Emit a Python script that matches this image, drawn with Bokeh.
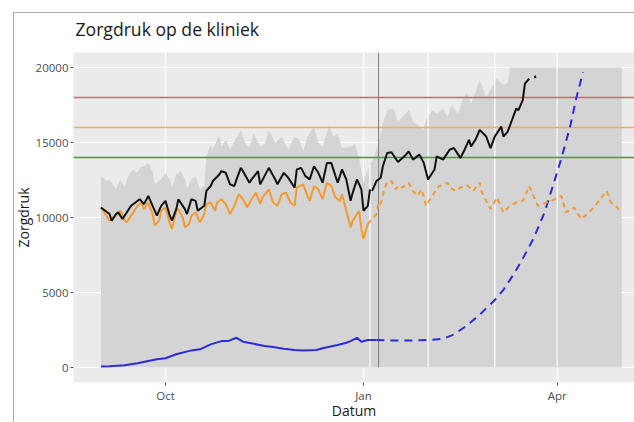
import numpy as np
import pandas as pd
from bokeh.plotting import figure
from bokeh.models import Range1d, FixedTicker, DatetimeTickFormatter, ColumnDataSource
from bokeh.embed import file_html
from bokeh.resources import INLINE

FONT = "Open Sans"
NAN = float("nan")

# ---------------- data ----------------
x_ticks = ["2021-10-01", "2022-01-01", "2022-04-01"]
y_ticks = [0, 5000, 10000, 15000, 20000]

thresholds = [18000, 16000, 14000]
threshold_colors = ["#E5596A", "#F4A863", "#489548"]

today = "2022-01-08"
ribbon_break_full = ["2022-01-31", "2022-03-03", "2022-04-01"]
ribbon_break_low = ["2022-01-04"]

ribbon_dates = [
    "2021-09-01", "2021-09-02", "2021-09-04", "2021-09-05", "2021-09-08", "2021-09-10",
    "2021-09-12", "2021-09-14", "2021-09-16", "2021-09-18", "2021-09-19", "2021-09-21",
    "2021-09-23", "2021-09-25", "2021-09-26", "2021-09-29", "2021-10-01", "2021-10-03",
    "2021-10-04", "2021-10-06", "2021-10-08", "2021-10-10", "2021-10-11", "2021-10-13",
    "2021-10-15", "2021-10-17", "2021-10-19", "2021-10-20", "2021-10-22", "2021-10-23",
    "2021-10-26", "2021-10-27", "2021-10-29", "2021-10-31", "2021-11-02", "2021-11-05",
    "2021-11-07", "2021-11-09", "2021-11-11", "2021-11-14", "2021-11-16", "2021-11-18",
    "2021-11-21", "2021-11-24", "2021-11-27", "2021-11-30", "2021-12-02", "2021-12-04",
    "2021-12-06", "2021-12-09", "2021-12-11", "2021-12-13", "2021-12-16", "2021-12-18",
    "2021-12-20", "2021-12-22", "2021-12-26", "2021-12-28", "2021-12-30", "2022-01-01",
    "2022-01-03", "2022-01-06", "2022-01-08", "2022-01-10", "2022-01-12", "2022-01-15",
    "2022-01-17", "2022-01-20", "2022-01-22", "2022-01-24", "2022-01-27", "2022-01-29",
    "2022-01-30", "2022-02-02", "2022-02-04", "2022-02-07", "2022-02-09", "2022-02-11",
    "2022-02-14", "2022-02-16", "2022-02-18", "2022-02-20", "2022-02-24", "2022-02-27",
    "2022-03-04", "2022-03-07", "2022-03-09", "2022-03-10", "2022-05-01",
]
ribbon_top = [
    12760, 12650, 12430, 12540, 11880, 12540,
    12060, 12870, 13200, 12980, 13310, 13420,
    13640, 13090, 12210, 12540, 12980, 12540,
    11990, 12870, 13090, 12540, 11880, 12540,
    12760, 11880, 12100, 14080, 14850, 14520,
    15510, 14740, 15180, 14520, 15070, 15840,
    14960, 14630, 15620, 14740, 14850, 15840,
    14960, 15400, 14520, 15400, 15180, 14410,
    15400, 16060, 14960, 14740, 16170, 15400,
    15620, 14630, 14740, 14960, 13860, 12320,
    13200, 14080, 14960, 16280, 17160, 17270,
    16390, 16830, 17160, 16390, 16060, 15840,
    16500, 17160, 16940, 17270, 16720, 17490,
    16940, 17820, 18300, 17600, 19140, 18020,
    19270, 18800, 19000, 20000, 20000,
]

black_dates = [
    "2021-09-01", "2021-09-03", "2021-09-05", "2021-09-06", "2021-09-08", "2021-09-09",
    "2021-09-11", "2021-09-12", "2021-09-15", "2021-09-17", "2021-09-19", "2021-09-21",
    "2021-09-23", "2021-09-25", "2021-09-27", "2021-09-29", "2021-10-01", "2021-10-03",
    "2021-10-04", "2021-10-06", "2021-10-07", "2021-10-10", "2021-10-11", "2021-10-13",
    "2021-10-15", "2021-10-16", "2021-10-19", "2021-10-20", "2021-10-22", "2021-10-23",
    "2021-10-26", "2021-10-27", "2021-10-29", "2021-10-31", "2021-11-02", "2021-11-03",
    "2021-11-05", "2021-11-06", "2021-11-09", "2021-11-10", "2021-11-13", "2021-11-14",
    "2021-11-16", "2021-11-18", "2021-11-21", "2021-11-22", "2021-11-25", "2021-11-27",
    "2021-11-30", "2021-12-01", "2021-12-03", "2021-12-05", "2021-12-07", "2021-12-09",
    "2021-12-11", "2021-12-13", "2021-12-15", "2021-12-17", "2021-12-19", "2021-12-20",
    "2021-12-22", "2021-12-24", "2021-12-26", "2021-12-27", "2021-12-29", "2021-12-31",
    "2022-01-01", "2022-01-03", "2022-01-04", "2022-01-04 14:00", "2022-01-05", "2022-01-07",
    "2022-01-09", "2022-01-10", "2022-01-12", "2022-01-14", "2022-01-17", "2022-01-20",
    "2022-01-22", "2022-01-24", "2022-01-27", "2022-01-29", "2022-01-31", "2022-02-03",
    "2022-02-04", "2022-02-07", "2022-02-10", "2022-02-12", "2022-02-14", "2022-02-15",
    "2022-02-17", "2022-02-19", "2022-02-20", "2022-02-22", "2022-02-24", "2022-02-27",
    "2022-03-01", "2022-03-03", "2022-03-06", "2022-03-07", "2022-03-09", "2022-03-11",
    "2022-03-13", "2022-03-14", "2022-03-16", "2022-03-17", "2022-03-19", "2022-03-20",
    "2022-03-21 12:00", "2022-03-22",
]
black_vals = [
    10670, 10450, 10230, 9790, 10230, 10340,
    9900, 10120, 10780, 11000, 11220, 10890,
    11440, 10780, 10120, 10780, 11110, 10120,
    9790, 10560, 11220, 10560, 10230, 11220,
    11110, 10450, 10780, 11770, 12100, 12430,
    12870, 13090, 12980, 12210, 12100, 12540,
    13310, 13090, 12320, 12540, 13090, 12210,
    12760, 13310, 12540, 12210, 12980, 12650,
    11990, 13200, 13310, 12760, 12540, 13420,
    12980, 12320, 13640, 13640, 12760, 12320,
    13200, 12540, 11110, 11660, 12540, 11880,
    10450, 10780, 11880, NAN, 11770, 12430,
    12650, 13420, 14300, 14350, 13700, 14080,
    14410, 13860, 14190, 13640, 12540, 13200,
    14080, 13860, 14520, 14630, 14190, 13970,
    14520, 15180, 14740, 15180, 15840, 15400,
    14630, 15400, 16060, 15400, 15730, 16500,
    17270, 17160, 17820, 18920, 19250, NAN,
    19450, 19300,
]

orange_dates = [
    "2021-09-01", "2021-09-03", "2021-09-05", "2021-09-08", "2021-09-10", "2021-09-12",
    "2021-09-13", "2021-09-16", "2021-09-18", "2021-09-20", "2021-09-21", "2021-09-23",
    "2021-09-25", "2021-09-26", "2021-09-28", "2021-09-29", "2021-10-01", "2021-10-03",
    "2021-10-04", "2021-10-06", "2021-10-07", "2021-10-09", "2021-10-10", "2021-10-12",
    "2021-10-13", "2021-10-15", "2021-10-17", "2021-10-19", "2021-10-20", "2021-10-22",
    "2021-10-24", "2021-10-25", "2021-10-27", "2021-10-29", "2021-10-31", "2021-11-02",
    "2021-11-04", "2021-11-06", "2021-11-08", "2021-11-10", "2021-11-12", "2021-11-14",
    "2021-11-15", "2021-11-18", "2021-11-20", "2021-11-22", "2021-11-24", "2021-11-26",
    "2021-11-28", "2021-11-30", "2021-12-01", "2021-12-04", "2021-12-06", "2021-12-07",
    "2021-12-09", "2021-12-11", "2021-12-13", "2021-12-15", "2021-12-17", "2021-12-19",
    "2021-12-21", "2021-12-22", "2021-12-26", "2021-12-27", "2021-12-30", "2021-12-31",
    "2022-01-01", "2022-01-03",
]
orange_vals = [
    10670, 10230, 9790, 10120, 10450, 9790,
    9680, 10340, 10780, 11000, 10560, 11000,
    10230, 9460, 9790, 10450, 10670, 9600,
    9240, 10450, 10560, 10010, 9350, 9570,
    10120, 10340, 9680, 10230, 10890, 11000,
    10450, 11000, 11220, 10890, 10230, 10780,
    11550, 11220, 10670, 11220, 11660, 10900,
    11330, 11880, 11000, 10780, 11550, 11660,
    11000, 10780, 11990, 12210, 11440, 11110,
    12100, 11880, 11220, 12320, 12100, 11330,
    11110, 11550, 9350, 9790, 10450, 9240,
    8580, 9570,
]

orange_fc_dates = [
    "2022-01-03", "2022-01-05", "2022-01-07", "2022-01-08", "2022-01-09", "2022-01-10",
    "2022-01-12", "2022-01-14", "2022-01-16", "2022-01-17", "2022-01-19", "2022-01-21",
    "2022-01-22", "2022-01-24", "2022-01-26", "2022-01-28", "2022-01-30", "2022-01-31",
    "2022-02-03", "2022-02-04", "2022-02-07", "2022-02-09", "2022-02-10", "2022-02-13",
    "2022-02-15", "2022-02-18", "2022-02-21", "2022-02-24", "2022-02-25", "2022-03-01",
    "2022-03-04", "2022-03-07", "2022-03-10", "2022-03-13", "2022-03-16", "2022-03-19",
    "2022-03-21", "2022-03-23", "2022-03-27", "2022-03-31", "2022-04-03", "2022-04-05",
    "2022-04-09", "2022-04-12", "2022-04-15", "2022-04-18", "2022-04-21", "2022-04-24",
    "2022-04-26", "2022-04-29", "2022-04-30",
]
orange_fc_vals = [
    9570, 9900, 10230, 11000, 10890, 11550,
    12400, 12430, 11880, 12100, 11990, 12210,
    12320, 11770, 11440, 11880, 10780, 11000,
    11660, 11990, 12210, 12320, 11990, 11770,
    12000, 12150, 11770, 12320, 11660, 10560,
    11330, 10340, 10780, 11000, 11110, 12100,
    11440, 10780, 11000, 11220, 11440, 10340,
    10670, 9900, 10230, 10670, 11220, 11770,
    11000, 10670, 10340,
]

blue_dates = [
    "2021-09-01", "2021-09-05", "2021-09-12", "2021-09-18", "2021-09-23", "2021-09-27",
    "2021-10-01", "2021-10-06", "2021-10-13", "2021-10-17", "2021-10-22", "2021-10-27",
    "2021-10-30", "2021-11-03", "2021-11-06", "2021-11-11", "2021-11-16", "2021-11-20",
    "2021-11-25", "2021-11-30", "2021-12-04", "2021-12-10", "2021-12-14", "2021-12-20",
    "2021-12-24", "2021-12-26", "2021-12-29", "2021-12-31", "2022-01-03", "2022-01-07",
]
blue_vals = [
    60, 80, 150, 285, 440, 550,
    615, 880, 1140, 1210, 1540, 1760,
    1760, 1980, 1720, 1580, 1430, 1360,
    1250, 1170, 1140, 1170, 1320, 1500,
    1650, 1760, 1980, 1720, 1830, 1830,
]

blue_fc_dates = [
    "2022-01-07", "2022-01-13", "2022-01-22", "2022-02-01", "2022-02-07", "2022-02-12",
    "2022-02-18", "2022-02-24", "2022-03-03", "2022-03-07", "2022-03-12", "2022-03-16",
    "2022-03-21", "2022-03-26", "2022-03-30", "2022-04-03", "2022-04-07", "2022-04-10",
    "2022-04-13",
]
blue_fc_vals = [
    1830, 1800, 1800, 1840, 1910, 2200,
    2800, 3520, 4500, 5170, 6270, 7260,
    8600, 10300, 12100, 13970, 16060, 18040,
    19690,
]

# ---------------- layout ----------------
X_START, X_END = "2021-08-19 06:00", "2022-05-06 22:00"
Y_MIN, Y_MAX = -1000, 21000


def dt(v):
    return pd.to_datetime(v, format="ISO8601")


def ms(v):
    return [pd.Timestamp(d).timestamp() * 1000.0 for d in v]


p = figure(width=634, height=422, x_axis_type="datetime",
           output_backend="svg", toolbar_location=None,
           x_range=Range1d(dt(X_START), dt(X_END)), y_range=Range1d(Y_MIN, Y_MAX),
           min_border_left=73, min_border_right=0, min_border_top=52, min_border_bottom=37)

# thin grey frame line along the top and the left of the picture
frame_css = ("linear-gradient(#A8A8A8, #A8A8A8) 13px 12px / 1px 100% no-repeat, "
             "linear-gradient(#A8A8A8, #A8A8A8) 13px 12px / 100% 1px no-repeat, #FFFFFF")
p.styles = {"background": frame_css}

p.background_fill_color = "#EBEBEB"
p.border_fill_alpha = 0
p.outline_line_color = None

p.title.text = "Zorgdruk op de kliniek"
p.title.text_font = FONT
p.title.text_font_size = "17.6px"
p.title.text_font_style = "normal"
p.title.text_color = "#1A1A1A"
p.title.standoff = 24
p.title.offset = 2

# grid
p.xgrid.ticker = FixedTicker(ticks=ms(x_ticks))
p.ygrid.ticker = FixedTicker(ticks=y_ticks)
for g in (p.xgrid, p.ygrid):
    g.grid_line_color = "white"
    g.grid_line_width = 1.2

# axes
p.xaxis.ticker = FixedTicker(ticks=ms(x_ticks))
p.xaxis.formatter = DatetimeTickFormatter(months="%b", days="%b", hours="%b", years="%b",
                                          context=None)
p.yaxis.ticker = FixedTicker(ticks=y_ticks)
for ax in (p.xaxis, p.yaxis):
    ax.axis_line_color = None
    ax.major_tick_line_color = "#4D4D4D"
    ax.major_tick_out = 3
    ax.major_tick_in = 0
    ax.minor_tick_line_color = None
    ax.major_label_text_font = FONT
    ax.major_label_text_font_size = "11.5px"
    ax.major_label_text_color = "#4D4D4D"
    ax.major_label_standoff = 2
    ax.axis_label_text_font = FONT
    ax.axis_label_text_font_size = "14px"
    ax.axis_label_text_font_style = "normal"
    ax.axis_label_text_color = "#1A1A1A"

p.yaxis.axis_label = "Zorgdruk"
p.yaxis.axis_label_standoff = 0
p.xaxis.axis_label = "Datum"
p.xaxis.axis_label_standoff = -5

# ribbon (capacity)
rib = ColumnDataSource(dict(x=dt(ribbon_dates), top=ribbon_top))
p.varea(x="x", y1=0, y2="top", source=rib, fill_color="#D4D4D4")

# white breaks through the ribbon
p.segment(x0=dt(ribbon_break_full), y0=0, x1=dt(ribbon_break_full), y1=Y_MAX,
          line_color="white", line_width=1.3, line_alpha=0.9)
low_top = np.interp(ms(ribbon_break_low), ms(ribbon_dates), ribbon_top)
p.segment(x0=dt(ribbon_break_low), y0=0, x1=dt(ribbon_break_low), y1=low_top,
          line_color="white", line_width=1.3, line_alpha=0.9)

# thresholds
p.hspan(y=thresholds, line_color=threshold_colors, line_width=1.6)

# today line
p.segment(x0=dt([today]), y0=0, x1=dt([today]), y1=Y_MAX, line_color="#7A7A7A", line_width=1)

# series
p.line(dt(blue_dates), blue_vals, line_color="#2B2BD8", line_width=2)
p.line(dt(blue_fc_dates), blue_fc_vals, line_color="#2B2BD8", line_width=2, line_dash="8 6")
p.line(dt(orange_dates), orange_vals, line_color="#F39A30", line_width=2)
p.line(dt(orange_fc_dates), orange_fc_vals, line_color="#F39A30", line_width=2, line_dash="5 4")
p.line(dt(black_dates), black_vals, line_color="#111111", line_width=2)

open("out.html", "w").write(file_html(p, INLINE))
